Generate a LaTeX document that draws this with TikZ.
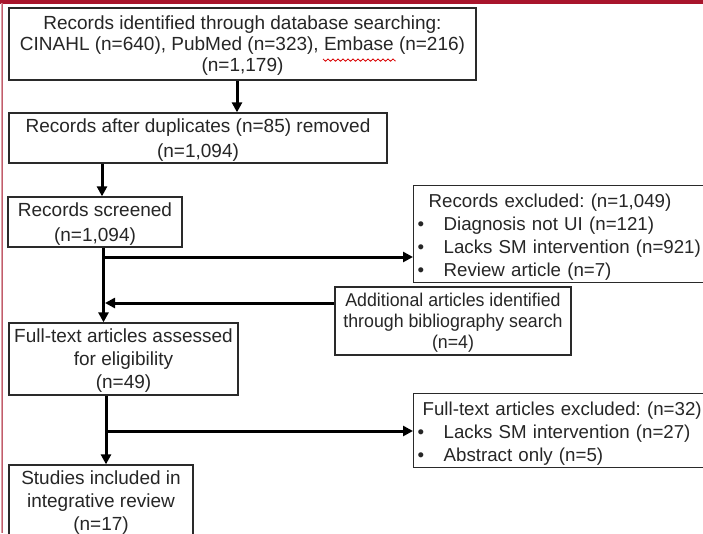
\documentclass[tikz,border=0pt]{standalone}
\usepackage{fontspec}
\setmainfont{Liberation Sans}
\newfontfamily\narrowfont[FakeStretch=0.96]{Liberation Sans}
\usetikzlibrary{arrows.meta}
\definecolor{framered}{HTML}{A8152C}
\definecolor{framepink}{HTML}{D9A0A6}
\definecolor{boxline}{HTML}{2A2A2A}
\tikzset{
  box/.style={draw=boxline, line width=1.3pt, inner sep=0pt, align=center,
    font=\fontsize{19}{23}\selectfont, text=black!85, text depth=-3pt},
  lbox/.style={draw=boxline, line width=1.3pt, inner ysep=0pt, inner xsep=6pt, align=left,
    font=\fontsize{18.7}{23}\selectfont, text=black!85, anchor=north west},
  arr/.style={line width=3pt, -{Triangle[length=10pt,width=10pt]}},
  ln/.style={line width=3pt}
}
\newcommand{\bul}{\makebox[24pt][l]{\hspace{-2pt}•}}
\newcommand{\topstrut}{\rule{0pt}{20.5pt}}
\begin{document}
\frenchspacing
\begin{tikzpicture}[x=1pt,y=-1pt]
\clip (0,0) rectangle (703,533);
\fill[white] (0,0) rectangle (703,533);
% frame
\fill[framered] (0,0) rectangle (703,3.5);
\draw[framepink, line width=1pt] (1,3) -- (1,533);
\draw[framered!70, line width=0.7pt] (2.6,3) -- (2.6,533);

% boxes
\node[box, minimum width=467, minimum height=72, text depth=-7pt, font=\fontsize{19}{21}\selectfont] (b1) at (242.5,44)
  {Records identified through database searching:\\
   CINAHL (n=640), PubMed (n=323), Embase (n=216)\\ (n=1,179)};
\node[box, minimum width=378, minimum height=50, text depth=-6pt, font=\fontsize{19}{25}\selectfont] (b2) at (198,138)
  {Records after duplicates (n=85) removed\\ (n=1,094)};
\node[box, minimum width=174, minimum height=50, text depth=-5pt, font=\fontsize{19}{25}\selectfont] (b3) at (95,222)
  {Records screened\\ (n=1,094)};
\node[box, minimum width=229, minimum height=72] (b4) at (123.5,359)
  {Full-text articles assessed\\ for eligibility\\ (n=49)};
\node[box, minimum width=184, minimum height=80, text depth=9pt] (b5) at (101,505)
  {Studies included in\\ integrative review\\ (n=17)};
\node[box, minimum width=236, minimum height=68, text depth=-4pt,
      font=\narrowfont\fontsize{18.5}{21}\selectfont] (add) at (453,321)
  {Additional articles identified\\ through bibliography search\\ (n=4)};
\node[lbox, text width=300pt, minimum height=97] (excl) at (413,185)
  {\topstrut\hspace*{9pt}Records excluded: (n=1,049)\\
   \bul Diagnosis not UI (n=121)\\
   \bul Lacks SM intervention (n=921)\\
   \bul Review article (n=7)};
\node[lbox, text width=300pt, minimum height=74] (fexcl) at (413,393)
  {\topstrut\hspace*{3pt}Full-text articles excluded: (n=32)\\
   \bul Lacks SM intervention (n=27)\\
   \bul Abstract only (n=5)};

% spell-check squiggle under Embase
\draw[red!85!black, line width=0.8pt]
  (323,59) \foreach \i in {0,...,28} { -- ++(2.5,{mod(\i,2)==0 ? 2.2 : -2.2}) };

% connector coordinates
\coordinate (x1) at (237,0);
\coordinate (x2) at (102,0);
\coordinate (x3) at (103.5,0);
\coordinate (x4) at (106,0);
\coordinate (h1) at (0,257);
\coordinate (h2) at (0,303);
\coordinate (h3) at (0,431);

% connectors
\draw[arr] (x1 |- b1.south) -- (x1 |- b2.north);
\draw[arr] (x2 |- b2.south) -- (x2 |- b3.north);
\draw[arr] (x3 |- b3.south) -- (x3 |- b4.north);
\draw[arr] (x3 |- h1) -- (excl.west |- h1);
\draw[arr] (add.west |- h2) -- ([xshift=1.5pt]x3 |- h2);
\draw[arr] (x4 |- b4.south) -- (x4 |- b5.north);
\draw[arr] (x4 |- h3) -- (fexcl.west |- h3);
\end{tikzpicture}
\end{document}
